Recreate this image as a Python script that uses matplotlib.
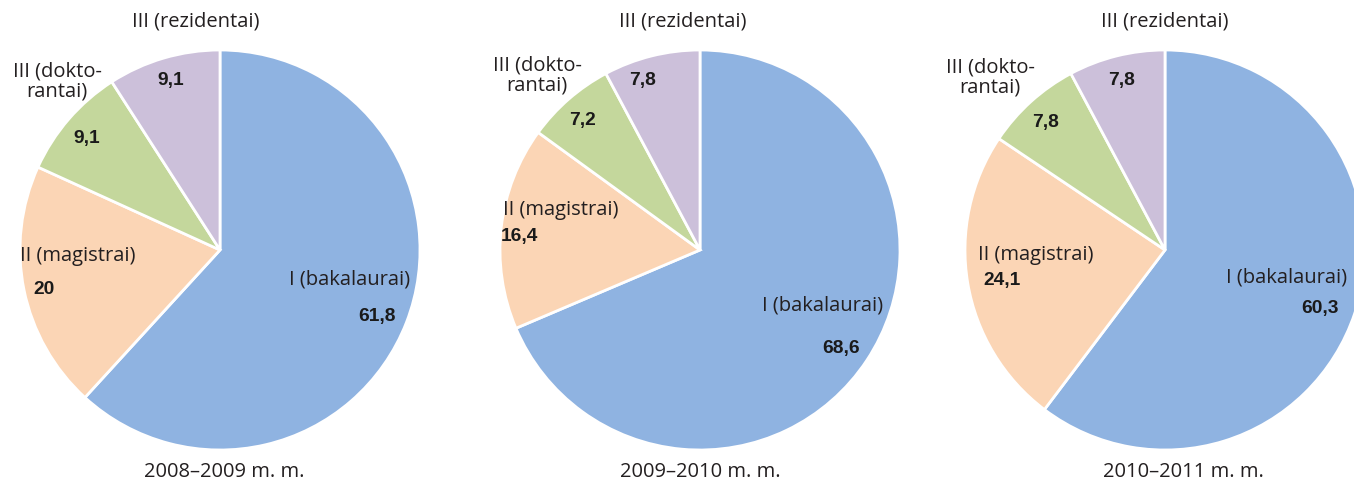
import matplotlib
matplotlib.use("Agg")
import matplotlib.pyplot as plt

# Shares of students by study cycle, per academic year (%)
years = ["2008–2009 m. m.", "2009–2010 m. m.", "2010–2011 m. m."]
categories = ["I (bakalaurai)", "II (magistrai)", "III (dokto-\nrantai)", "III (rezidentai)"]
bakalaurai = [61.8, 68.6, 60.3]
magistrai = [20.0, 16.4, 24.1]
doktorantai = [9.1, 7.2, 7.8]
rezidentai = [9.1, 7.8, 7.8]
colors = ["#8fb3e1", "#fbd5b5", "#c4d79c", "#ccc0da"]

W, H = 1354, 484
fig = plt.figure(figsize=(W / 100, H / 100), dpi=100)
ax = fig.add_axes([0, 0, 1, 1])
ax.set_xlim(0, W)
ax.set_ylim(0, H)
ax.set_aspect("equal")
ax.axis("off")

def fy(y):
    return H - y

label_font = dict(family=["Open Sans", "DejaVu Sans"], fontsize=14.5, color="#231f20")
value_font = dict(family=["Liberation Sans", "DejaVu Sans"], fontsize=13.8,
                  fontweight="bold", color="#1a1a1a")

# Layout per pie: centre, and text anchors in pixel space
centers = [(220, 250), (700, 250), (1165, 250)]
radius = 200
cat_pos = [
    [(350, 280), (78, 256), (57, 81), (196, 22)],
    [(823, 305), (561, 210), (537, 76), (683, 22)],
    [(1287, 278), (1036, 255), (990, 78), (1165, 22)],
]
val_pos = [
    [(377, 316), (44, 289), (87, 139), (171, 80)],
    [(841, 348), (519, 236), (583, 120), (643, 80)],
    [(1320, 309), (1002, 280), (1046, 123), (1122, 81)],
]
year_pos = [(224, 472), (700, 472), (1183, 472)]

def fmt(v):
    s = f"{v:.1f}".replace(".", ",")
    return s[:-2] if s.endswith(",0") else s

for i in range(3):
    vals = [bakalaurai[i], magistrai[i], doktorantai[i], rezidentai[i]]
    cx, cy = centers[i]
    ax.pie(vals, colors=colors, startangle=90, counterclock=False,
           center=(cx, fy(cy)), radius=radius,
           wedgeprops=dict(edgecolor="white", linewidth=2.0))
    for j, (label, v) in enumerate(zip(categories, vals)):
        x, y = cat_pos[i][j]
        ax.text(x, fy(y), label, ha="center", va="center", linespacing=1.0, **label_font)
        x, y = val_pos[i][j]
        ax.text(x, fy(y), fmt(v), ha="center", va="center", **value_font)
    x, y = year_pos[i]
    ax.text(x, fy(y), years[i], ha="center", va="center", **label_font)

ax.set_xlim(0, W)
ax.set_ylim(0, H)
fig.savefig("out.png", dpi=100)
